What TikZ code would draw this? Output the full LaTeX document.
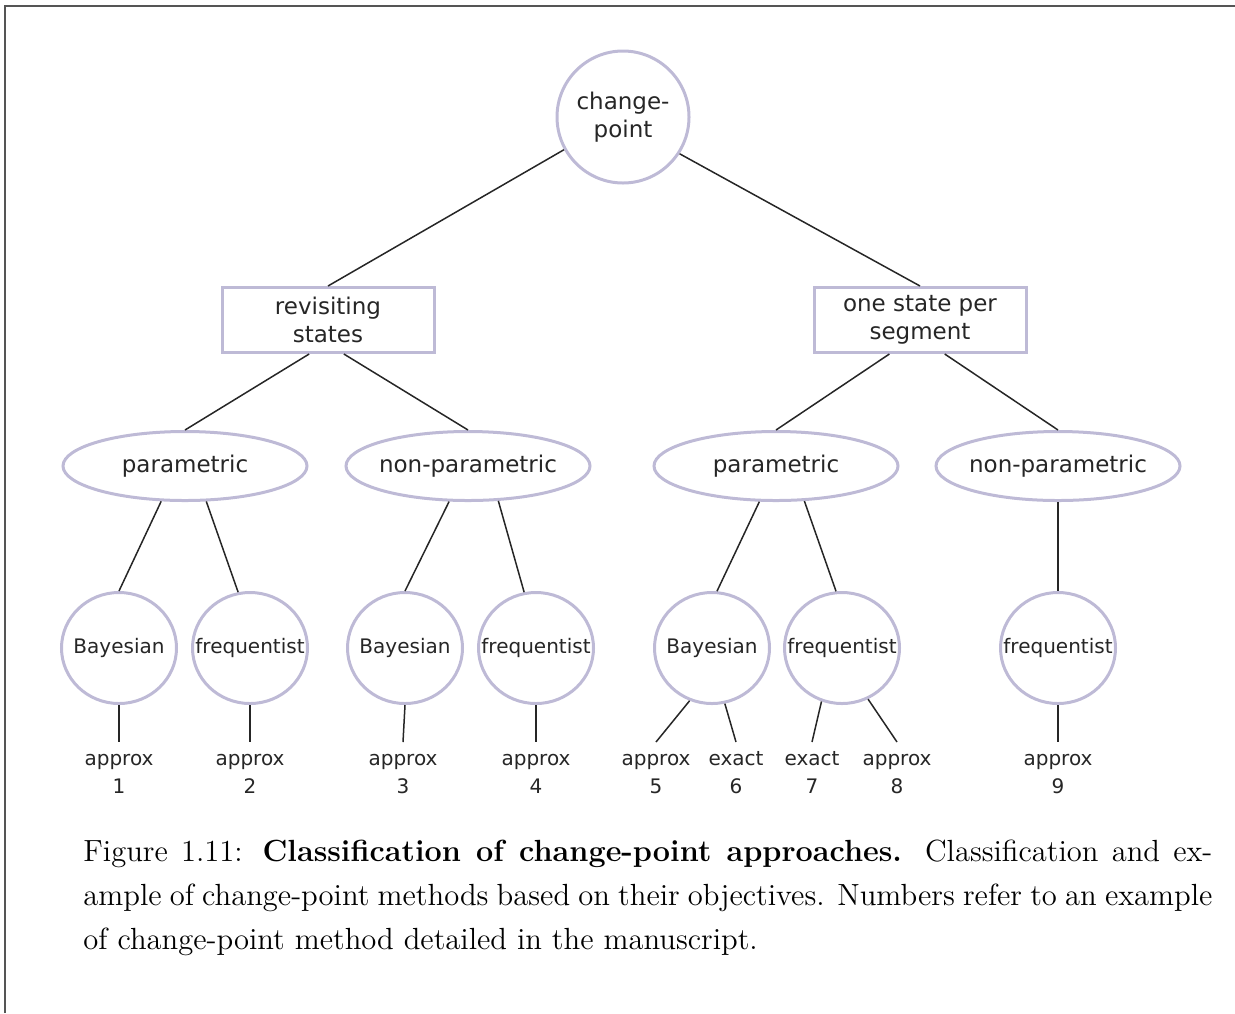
\documentclass[tikz,border=0pt]{standalone}
\usepackage{fontspec}
\newfontfamily\dejavu{DejaVu Sans}
\newfontfamily\capfont{lmroman12}[Extension=.otf,UprightFont=*-regular,BoldFont=*-bold]
\usetikzlibrary{shapes.geometric}
\definecolor{nodeline}{RGB}{190,186,214}
\definecolor{frameline}{RGB}{85,85,85}

\begin{document}
\begin{tikzpicture}[x=0.5pt,y=-0.5pt,
    bignode/.style={draw=nodeline,line width=1.5pt,inner sep=0pt,align=center,
      text=black!85,font=\dejavu\fontsize{11.5}{14}\selectfont},
    topcirc/.style={bignode,circle,minimum size=66pt},
    rectnode/.style={bignode,rectangle,minimum width=106pt,minimum height=32.5pt},
    ovalnode/.style={bignode,ellipse,inner xsep=-24pt,minimum width=122pt,minimum height=34.5pt},
    smallnode/.style={draw=nodeline,line width=1.5pt,ellipse,inner sep=0pt,inner xsep=-24pt,
      minimum width=57.5pt,minimum height=55.5pt,text=black!85,font=\dejavu\fontsize{10}{12}\selectfont},
    leaf/.style={anchor=north,align=center,inner sep=1.5pt,text=black!85,font=\dejavu\fontsize{10}{14}\selectfont},
    link/.style={line width=0.75pt,black!85}]

    \useasboundingbox (0,0) rectangle (1235,1013);

    % Cadre
    \draw[frameline,line width=1pt] (5,1013) -- (5,6) -- (1235,6);

    % Racine
    \node[topcirc] (cp) at (623,117) {change-\\point};

    % Etats
    \node[rectnode] (rev) at (328,320) {revisiting\\states};
    \node[rectnode] (one) at (920,320) {one state per\\segment};

    % Modeles
    \node[ovalnode] (par1) at (185,466) {parametric};
    \node[ovalnode] (np1) at (468,466) {non-parametric};
    \node[ovalnode] (par2) at (776,466) {parametric};
    \node[ovalnode] (np2) at (1058,466) {non-parametric};

    % Approches
    \foreach \n/\x/\t in {bay1/119/Bayesian, freq1/250/frequentist, bay2/405/Bayesian,
        freq2/536/frequentist, bay3/712/Bayesian, freq3/842/frequentist, freq4/1058/frequentist} {
      \node[smallnode] (\n) at (\x,648) {\t};
    }

    % Exemples
    \foreach \n/\x/\t in {1/119/approx, 2/250/approx, 3/403/approx, 4/536/approx, 5/656/approx,
        6/736/exact, 7/812/exact, 8/897/approx, 9/1058/approx} {
      \node[leaf] (l\n) at (\x,742) {\strut\t\\\n};
    }

    % Liens
    \draw[link] (cp.209) -- (rev.north);
    \draw[link] (cp.327) -- (one.north);
    \draw[link] (rev.241) -- (par1.north);
    \draw[link] (rev.295) -- (np1.north);
    \draw[link] (one.228) -- (par2.north);
    \draw[link] (one.306) -- (np2.north);
    \draw[link] (par1.236) -- (bay1.north);
    \draw[link] (par1.301) -- (freq1.102);
    \draw[link] (np1.242) -- (bay2.north);
    \draw[link] (np1.311) -- (freq2.102);
    \draw[link] (par2.245) -- (bay3.85);
    \draw[link] (par2.309) -- (freq3.96);
    \draw[link] (np2.south) -- (freq4.north);
    \draw[link] (bay1.south) -- (l1.north);
    \draw[link] (freq1.south) -- (l2.north);
    \draw[link] (bay2.south) -- (l3.north);
    \draw[link] (freq2.south) -- (l4.north);
    \draw[link] (bay3.247) -- (l5.north);
    \draw[link] (bay3.283) -- (l6.north);
    \draw[link] (freq3.249) -- (l7.north);
    \draw[link] (freq3.297) -- (l8.north);
    \draw[link] (freq4.south) -- (l9.north);

    % Legende
    \node[anchor=north west,text width=564.5pt,inner sep=0pt,align=justify,
      font=\capfont\fontsize{15.3}{22}\selectfont] (cap) at (83,840)
      {Figure 1.11: \textbf{Classification of change-point approaches.} Classification and ex-\linebreak
       ample of change-point methods based on their objectives. Numbers refer to an example\linebreak
       of change-point method detailed in the manuscript.};

\end{tikzpicture}
\end{document}
